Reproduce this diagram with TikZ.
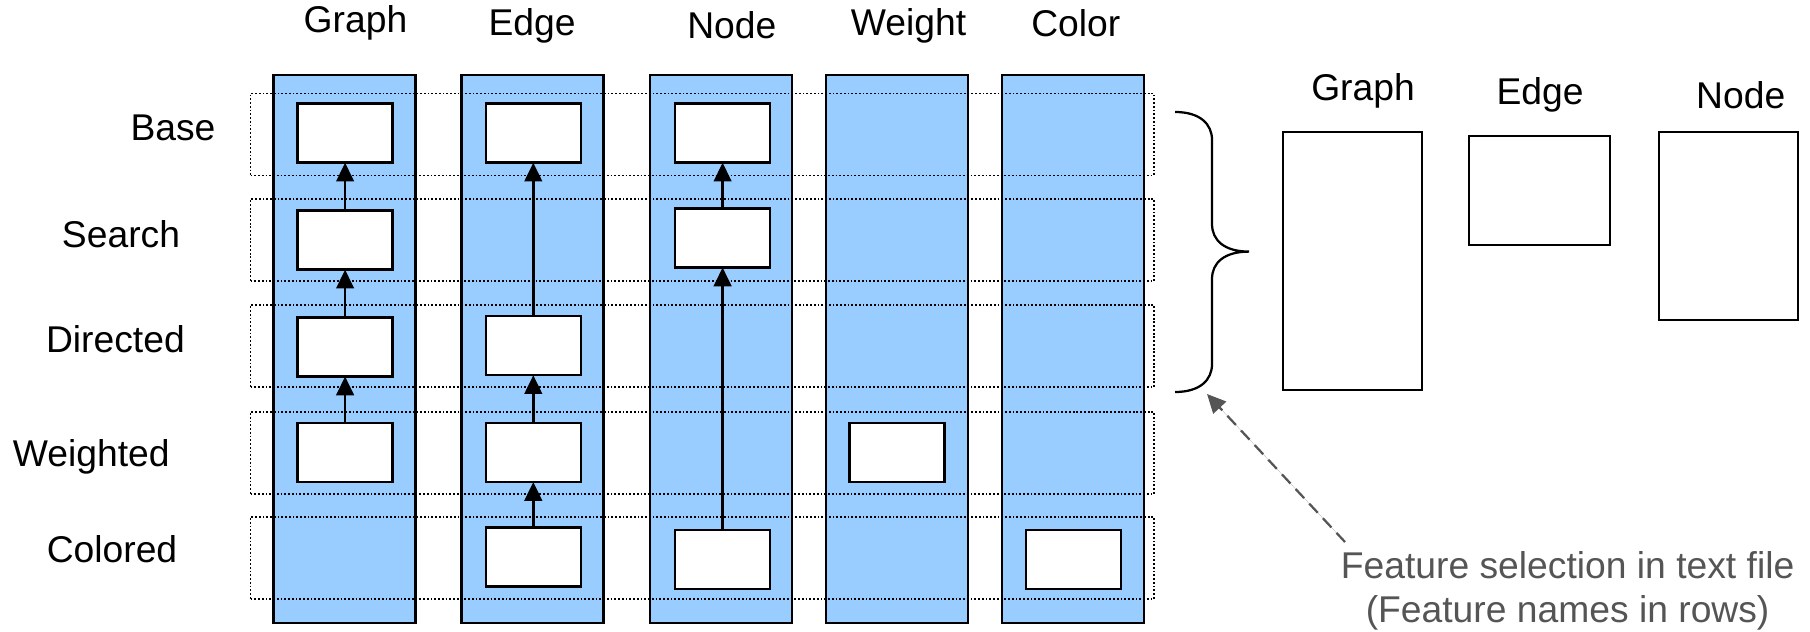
\documentclass[tikz,border=0pt]{standalone}
\usepackage{fontspec}
\setmainfont{Liberation Sans}
\usetikzlibrary{arrows.meta}
\definecolor{colblue}{RGB}{153,204,255}
\definecolor{notegray}{RGB}{85,85,85}
\newcommand\pxu{0.4pt}

\begin{document}
\begin{tikzpicture}[x=0.4pt,y=-0.4pt,
  every node/.style={font=\fontsize{14.9pt}{17.6pt}\selectfont, inner sep=0pt, outer sep=0pt},
  column/.style={draw, fill=colblue, line width=1pt, minimum width=142*\pxu, minimum height=548*\pxu},
  rowband/.style={draw, line width=0.75pt, dash pattern=on 0.75pt off 0.75pt, minimum width=903.5*\pxu, minimum height=82*\pxu},
  featbox/.style={draw, fill=white, line width=1pt, minimum width=95*\pxu, minimum height=59*\pxu},
  refine/.style={line width=1.1pt, -{Triangle[width=7pt,length=7.5pt]}},
  outbox/.style={draw, line width=0.8pt},
  note/.style={text=notegray, align=center},
  pointer/.style={draw=notegray, line width=0.9pt, dash pattern=on 5pt off 3pt, -{Triangle[width=7pt,length=7.5pt]}, fill=notegray}
]
\useasboundingbox (0,0) rectangle (1810,632);

% feature columns
\node[column] (cG) at (344.6,349) {};
\node[column] (cE) at (532.7,349) {};
\node[column] (cN) at (721,349) {};
\node[column] (cW) at (896.9,349) {};
\node[column] (cC) at (1073,349) {};

% column headings
\node (hG) at (355.5,23) {Graph};
\node (hE) at (532,25.4) {Edge};
\node (hN) at (731.8,25.4) {Node};
\node (hW) at (908.5,25.4) {Weight};
\node (hC) at (1075.8,23) {Color};

% feature rows
\node[rowband] (rB) at (702.25,134.5) {};
\node[rowband] (rS) at (702.25,240.2) {};
\node[rowband] (rD) at (702.25,346.3) {};
\node[rowband] (rW) at (702.25,453) {};
\node[rowband] (rC) at (702.25,558) {};

% row labels
\node (lB) at (173,128) {Base};
\node (lS) at (121,234) {Search};
\node (lD) at (115.4,339.4) {Directed};
\node (lW) at (91.2,457) {Weighted};
\node (lC) at (112,549.5) {Colored};

% feature modules
\node[featbox] (g1) at (345.1,133.2) {};
\node[featbox] (g2) at (345.1,240.2) {};
\node[featbox] (g3) at (345.1,347) {};
\node[featbox] (g4) at (345.1,452.5) {};

\node[featbox] (e1) at (533.3,133.2) {};
\node[featbox] (e3) at (533.3,345.7) {};
\node[featbox] (e4) at (533.3,452.5) {};
\node[featbox] (e5) at (533.3,557) {};

\node[featbox] (n1) at (722.6,133.2) {};
\node[featbox] (n2) at (722.6,238) {};
\node[featbox] (n5) at (722.6,559.3) {};

\node[featbox] (w4) at (896.9,452.5) {};
\node[featbox] (k5) at (1073.5,559.3) {};

% refinement arrows
\draw[refine] (g2.north) -- (g1.south);
\draw[refine] (g3.north) -- (g2.south);
\draw[refine] (g4.north) -- (g3.south);
\draw[refine] (e3.north) -- (e1.south);
\draw[refine] (e4.north) -- (e3.south);
\draw[refine] (e5.north) -- (e4.south);
\draw[refine] (n2.north) -- (n1.south);
\draw[refine] (n5.north) -- (n2.south);

% brace over the rows
\draw[line width=0.9pt] (1175,112) .. controls (1200,112) and (1212,124) .. (1212,140)
  -- (1212,224) .. controls (1212,240) and (1224,251.6) .. (1249,251.6)
  .. controls (1224,251.6) and (1212,263) .. (1212,279)
  -- (1212,364) .. controls (1212,380) and (1200,392) .. (1175,392);

% generated classes
\node (oG) at (1363,91.2) {Graph};
\node (oE) at (1540,94.7) {Edge};
\node (oN) at (1740.7,94.7) {Node};
\node[outbox, minimum width=139.5*\pxu, minimum height=258.4*\pxu] (bG) at (1352.3,260.8) {};
\node[outbox, minimum width=141*\pxu, minimum height=108.5*\pxu] (bE) at (1539.9,190.5) {};
\node[outbox, minimum width=139.7*\pxu, minimum height=188*\pxu] (bN) at (1728.6,225.7) {};

% note
\node[note] (txt) at (1567.6,591) {Feature selection in text file\\(Feature names in rows)};
\coordinate (pS) at (1345,542);
\coordinate (pE) at (1207,394);
\draw[pointer] (pS) -- (pE);
\end{tikzpicture}
\end{document}
